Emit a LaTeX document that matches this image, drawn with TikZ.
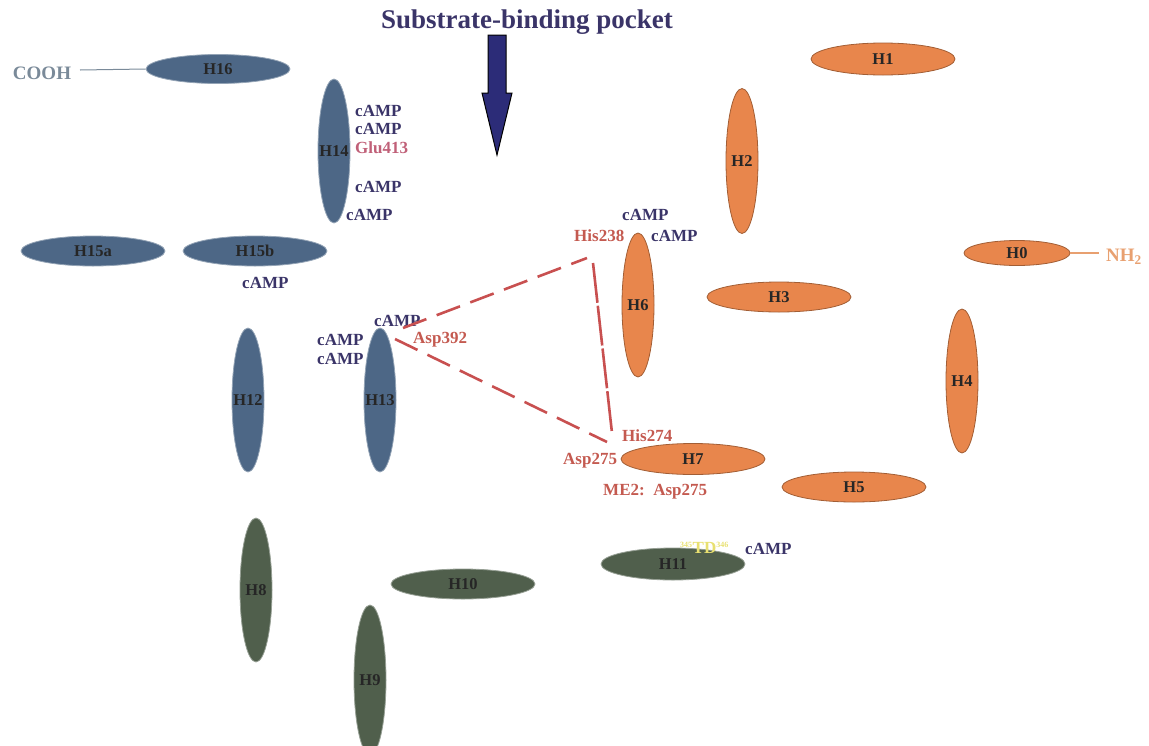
\documentclass[tikz,border=0pt]{standalone}
\usepackage{fontspec}
\setmainfont{Liberation Serif}
\usetikzlibrary{shapes.geometric,shapes.arrows}
\definecolor{hblue}{HTML}{4D6786}
\definecolor{hgreen}{HTML}{505F4C}
\definecolor{horange}{HTML}{E8864C}
\definecolor{navy}{HTML}{3A3468}
\definecolor{resred}{HTML}{C45A50}
\definecolor{glupink}{HTML}{C06078}
\definecolor{cooh}{HTML}{7A8A99}
\definecolor{nhtwo}{HTML}{E8A070}
\definecolor{tdyel}{HTML}{E8E070}
\definecolor{arrowfill}{HTML}{2C2C78}
\definecolor{dashred}{HTML}{C85050}
\newcommand{\hlab}[1]{\makebox[0pt]{#1}}
\tikzset{
  helix/.style={ellipse, inner sep=0pt, line width=0.8pt, font=\fontsize{16.5}{18}\selectfont\bfseries, text=black!85},
  hb/.style={helix, fill=hblue, draw=hblue!60!white},
  hg/.style={helix, fill=hgreen, draw=hgreen!60!white},
  ho/.style={helix, fill=horange, draw=horange!70!black},
  horiz/.style={minimum width=144pt, minimum height=30pt},
  vert/.style={minimum width=32pt, minimum height=144pt},
  lab/.style={inner sep=0pt, anchor=west, font=\fontsize{17}{19}\selectfont\bfseries},
  camp/.style={lab, text=navy},
  res/.style={lab, text=resred},
  dashline/.style={draw=dashred, line width=2.6pt, dash pattern=on 25pt off 11pt},
  longdash/.style={draw=dashred, line width=2.6pt, dash pattern=on 40pt off 3pt}
}
\begin{document}
\begin{tikzpicture}[x=1pt,y=-1pt]
\useasboundingbox (0,0) rectangle (1149,745);
% title and arrow
\node[font=\fontsize{27}{32}\selectfont\bfseries, text=navy] (title) at (527,22) {Substrate-binding pocket};
\draw[fill=arrowfill, draw=black, line width=1pt]
  (488,35) -- (506,35) -- (506,93) -- (512,93) -- (497,155) -- (482,93) -- (488,93) -- cycle;
% blue helices
\node[hb, minimum width=144pt, minimum height=29pt] (H16) at (218,69) {\hlab{H16}};
\node[hb, vert] (H14) at (334,151) {\hlab{H14}};
\node[hb, horiz] (H15a) at (93,251) {\hlab{H15a}};
\node[hb, horiz] (H15b) at (255,251) {\hlab{H15b}};
\node[hb, vert] (H12) at (248,400) {\hlab{H12}};
\node[hb, vert] (H13) at (380,400) {\hlab{H13}};
% green helices
\node[hg, vert] (H8) at (256,590) {\hlab{H8}};
\node[hg, vert, minimum height=150pt] (H9) at (370,680) {\hlab{H9}};
\node[hg, horiz] (H10) at (463,584) {\hlab{H10}};
\node[hg, horiz, minimum height=32pt] (H11) at (673,564) {\hlab{H11}};
% orange helices
\node[ho, horiz, minimum height=32pt] (H1) at (883,59) {\hlab{H1}};
\node[ho, vert, minimum height=145pt] (H2) at (742,161) {\hlab{H2}};
\node[ho, minimum width=106pt, minimum height=25pt] (H0) at (1017,253) {\hlab{H0}};
\node[ho, horiz] (H3) at (779,297) {\hlab{H3}};
\node[ho, vert] (H6) at (638,305) {\hlab{H6}};
\node[ho, vert] (H4) at (962,381) {\hlab{H4}};
\node[ho, horiz, minimum height=31pt] (H7) at (693,459) {\hlab{H7}};
\node[ho, horiz] (H5) at (854,487) {\hlab{H5}};
% termini
\node[inner sep=0pt, font=\fontsize{19}{22}\selectfont\bfseries, text=cooh] (COOH) at (42,73) {COOH};
\coordinate (cooh1) at (80,70);
\draw[cooh, line width=1pt] (cooh1) -- (H16.west);
\node[inner sep=0pt, anchor=west, font=\fontsize{19}{22}\selectfont\bfseries, text=nhtwo] (NH2) at (1106,257) {NH\textsubscript{2}};
\coordinate (nh1) at (1099,253);
\draw[nhtwo, line width=1.2pt] (H0.east) -- (nh1);
% labels near H14
\node[camp] (c1) at (355,111) {cAMP};
\node[camp] (c2) at (355,129) {cAMP};
\node[lab, text=glupink] (glu) at (355,148) {Glu413};
\node[camp] (c3) at (355,187) {cAMP};
\node[camp] (c4) at (346,215) {cAMP};
\node[camp] (c5) at (242,283) {cAMP};
% labels near H13
\node[camp] (c6) at (374,321) {cAMP};
\node[camp] (c7) at (317,340) {cAMP};
\node[camp] (c8) at (317,359) {cAMP};
\node[res] (asp392) at (413,340) {Asp392};
% labels near H6
\node[camp] (c9) at (622,215) {cAMP};
\node[res] (his238) at (574,236) {His238};
\node[camp] (c10) at (651,236) {cAMP};
% labels near H7
\node[res] (his274) at (622,436) {His274};
\node[res] (asp275) at (563,461) {Asp275};
\node[res] (me2) at (603,492) {ME2:\ \ Asp275};
% labels near H11
\node[lab, text=tdyel] (td) at (680,548) {\textsuperscript{\fontsize{8}{9}\selectfont 345}TD\textsuperscript{\fontsize{8}{9}\selectfont 346}};
\node[camp] (c11) at (745,549) {cAMP};
% dashed distances
\coordinate (a1) at (403,328);
\coordinate (h1) at (587,258);
\coordinate (a2) at (395,339);
\coordinate (h2) at (607,442);
\coordinate (v1) at (593,263);
\coordinate (v2) at (612,433);
\draw[dashline] (a1) -- (h1);
\draw[dashline] (a2) -- (h2);
\draw[longdash] (v1) -- (v2);
\end{tikzpicture}
\end{document}
